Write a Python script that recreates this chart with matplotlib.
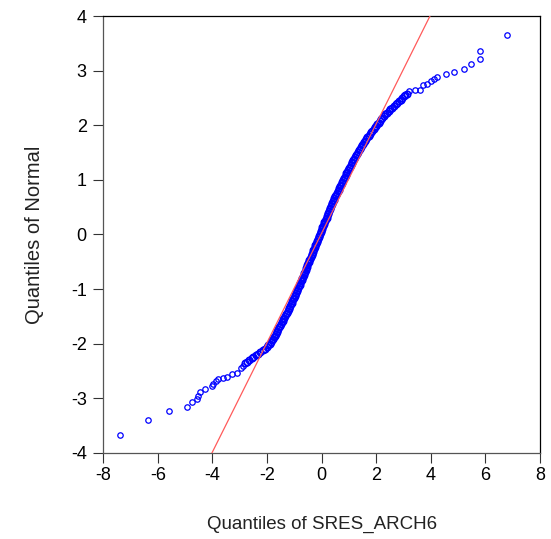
import matplotlib
matplotlib.use("Agg")
import matplotlib.pyplot as plt

plt.rcParams['font.family'] = ['Liberation Sans', 'DejaVu Sans']
plt.rcParams['axes.unicode_minus'] = False

# lower tail points (sample quantile, normal quantile)
low_x = [-7.39, -6.35, -5.60, -4.92, -4.74, -4.57, -4.54, -4.47, -4.26, -4.02,
         -3.97, -3.87, -3.80, -3.60, -3.46, -3.27, -3.11, -2.97, -2.90]
low_y = [-3.67, -3.39, -3.24, -3.15, -3.07, -3.02, -2.95, -2.89, -2.83, -2.78,
         -2.73, -2.68, -2.65, -2.62, -2.61, -2.56, -2.53, -2.45, -2.41]

# dense body of the plot
mid_x = [-2.80, -2.72, -2.65, -2.57, -2.50, -2.42, -2.33, -2.25, -2.16, -2.09,
         -2.02, -1.96, -1.90, -1.86, -1.82, -1.78, -1.75, -1.72, -1.69, -1.65,
         -1.62, -1.59, -1.56, -1.53, -1.49, -1.46, -1.43, -1.40, -1.37, -1.34,
         -1.31, -1.27, -1.24, -1.21, -1.18, -1.15, -1.12, -1.09, -1.07, -1.04,
         -1.01, -0.99, -0.96, -0.94, -0.91, -0.89, -0.86, -0.83, -0.81, -0.78,
         -0.76, -0.73, -0.71, -0.69, -0.66, -0.64, -0.61, -0.59, -0.57, -0.54,
         -0.52, -0.49, -0.47, -0.45, -0.42, -0.40, -0.37, -0.35, -0.33, -0.30,
         -0.28, -0.25, -0.23, -0.21, -0.18, -0.16, -0.13, -0.11, -0.09, -0.06,
         -0.04, -0.02, 0.01, 0.03, 0.06, 0.08, 0.10, 0.13, 0.15, 0.18,
         0.20, 0.22, 0.25, 0.27, 0.30, 0.32, 0.35, 0.37, 0.39, 0.42,
         0.44, 0.47, 0.50, 0.53, 0.56, 0.59, 0.62, 0.65, 0.67, 0.70,
         0.73, 0.76, 0.79, 0.82, 0.85, 0.88, 0.91, 0.94, 0.98, 1.01,
         1.04, 1.07, 1.10, 1.13, 1.16, 1.19, 1.23, 1.26, 1.30, 1.33,
         1.37, 1.40, 1.44, 1.47, 1.51, 1.55, 1.59, 1.64, 1.68, 1.72,
         1.77, 1.81, 1.86, 1.90, 1.95, 1.99, 2.04, 2.09, 2.13, 2.18,
         2.22, 2.27, 2.32, 2.39, 2.45, 2.51, 2.58, 2.64, 2.71, 2.77,
         2.83, 2.89, 2.95, 3.01, 3.07, 3.11]
mid_y = [-2.36, -2.33, -2.30, -2.27, -2.24, -2.21, -2.18, -2.15, -2.12, -2.09,
         -2.06, -2.03, -2.00, -1.97, -1.94, -1.91, -1.88, -1.85, -1.82, -1.79,
         -1.76, -1.73, -1.70, -1.67, -1.64, -1.61, -1.58, -1.55, -1.52, -1.49,
         -1.46, -1.43, -1.40, -1.37, -1.34, -1.31, -1.28, -1.25, -1.22, -1.19,
         -1.16, -1.13, -1.10, -1.07, -1.04, -1.01, -0.98, -0.95, -0.92, -0.89,
         -0.86, -0.83, -0.80, -0.77, -0.74, -0.71, -0.68, -0.65, -0.62, -0.59,
         -0.56, -0.53, -0.50, -0.47, -0.44, -0.41, -0.38, -0.35, -0.32, -0.29,
         -0.26, -0.23, -0.20, -0.17, -0.14, -0.11, -0.08, -0.05, -0.02, 0.01,
         0.04, 0.07, 0.10, 0.13, 0.16, 0.19, 0.22, 0.25, 0.28, 0.31,
         0.34, 0.37, 0.40, 0.43, 0.46, 0.49, 0.52, 0.55, 0.58, 0.61,
         0.64, 0.67, 0.70, 0.73, 0.76, 0.79, 0.82, 0.85, 0.88, 0.91,
         0.94, 0.97, 1.00, 1.03, 1.06, 1.09, 1.12, 1.15, 1.18, 1.21,
         1.24, 1.27, 1.30, 1.33, 1.36, 1.39, 1.42, 1.45, 1.48, 1.51,
         1.54, 1.57, 1.60, 1.63, 1.66, 1.69, 1.72, 1.75, 1.78, 1.81,
         1.84, 1.87, 1.90, 1.93, 1.96, 1.99, 2.02, 2.05, 2.08, 2.11,
         2.14, 2.17, 2.20, 2.23, 2.26, 2.29, 2.32, 2.35, 2.38, 2.41,
         2.44, 2.47, 2.50, 2.53, 2.56, 2.58]

# upper tail points
up_x = [3.20, 3.42, 3.60, 3.70, 3.87, 3.99, 4.11, 4.23, 4.56, 4.85,
        5.21, 5.49, 5.80, 5.80, 6.78]
up_y = [2.62, 2.64, 2.65, 2.73, 2.76, 2.81, 2.85, 2.88, 2.93, 2.98,
        3.03, 3.12, 3.21, 3.36, 3.65]

# reference line ends
ref_x = [-4.02, 3.97]
ref_y = [-4.0, 4.0]

fig = plt.figure(figsize=(5.51, 5.39), dpi=100)
ax = fig.add_axes([0.1875, 0.1596, 0.7925, 0.8107])

ax.plot(ref_x, ref_y, color='#ff5a5a', lw=0.9, zorder=3)

# tails: separate rings
ax.plot(low_x + up_x, low_y + up_y, linestyle='none', marker='o', markersize=3.9,
        markerfacecolor='none', markeredgecolor='#0000ff',
        markeredgewidth=0.9, zorder=2)
# body: rings overlap into a solid band
ax.plot(mid_x, mid_y, linestyle='none', marker='o', markersize=4.6,
        markerfacecolor='none', markeredgecolor='#0000ff',
        markeredgewidth=1.2, zorder=2)

ax.set_xlim(-8, 8)
ax.set_ylim(-4, 4)
ax.set_xticks([-8, -6, -4, -2, 0, 2, 4, 6, 8])
ax.set_yticks([-4, -3, -2, -1, 0, 1, 2, 3, 4])

ax.tick_params(direction='out', length=7, width=0.8, colors='#333333',
               labelsize=13, labelcolor='black')
ax.tick_params(axis='x', pad=3)
ax.tick_params(axis='y', pad=5)

for side in ['left', 'bottom']:
    ax.spines[side].set_color('#555555')
for side in ['top', 'right']:
    ax.spines[side].set_color('black')
for s in ax.spines.values():
    s.set_linewidth(0.9)

ax.set_xlabel("Quantiles of SRES_ARCH6", fontsize=13.5, labelpad=23, color='#222222')
ax.set_ylabel("Quantiles of Normal", fontsize=14.5, labelpad=19, color='#222222')

fig.savefig("out.png", dpi=100)
